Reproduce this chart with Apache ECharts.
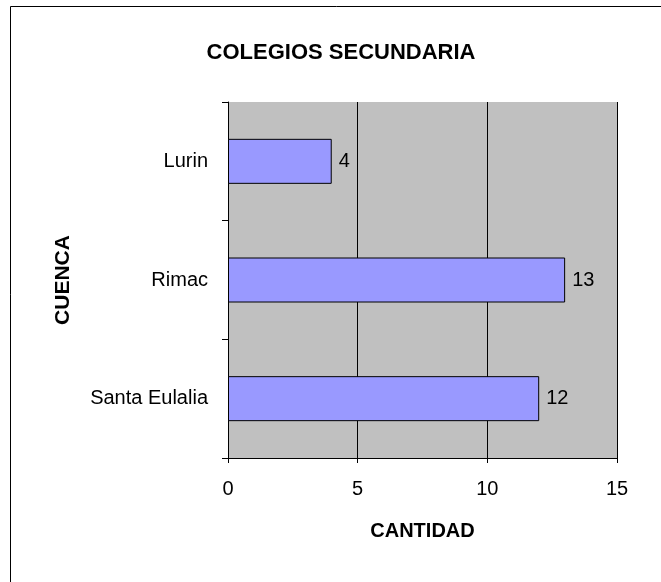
<!DOCTYPE html>
<html>
<head>
<meta charset="utf-8">
<script src="https://cdn.jsdelivr.net/npm/echarts@6/dist/echarts.min.js"></script>
<style>
  html, body { margin: 0; padding: 0; background: #fff; }
  #chart { width: 661px; height: 582px; }
</style>
</head>
<body>
<div id="chart"></div>
<script>
// datos
var cuencas = ['Lurin', 'Rimac', 'Santa Eulalia'];
var cantidades = [4, 13, 12];
var ticksX = [0, 5, 10, 15];

var chart = echarts.init(document.getElementById('chart'));
var fuente = 'Liberation Sans, Arial, sans-serif';

var option = {
    animation: false,
    backgroundColor: '#fff',
    title: {
        text: 'COLEGIOS SECUNDARIA',
        left: 336,
        top: 37,
        textAlign: 'center',
        textStyle: { fontFamily: fuente, fontSize: 22, fontWeight: 'bold', color: '#000' }
    },
    // marco exterior
    graphic: [{
        type: 'rect',
        shape: { x: 10.5, y: 6.5, width: 700, height: 700 },
        style: { fill: 'none', stroke: '#000', lineWidth: 1 },
        silent: true
    }],
    grid: {
        left: 228, top: 102, right: 44, bottom: 124,
        show: true, backgroundColor: '#C0C0C0', borderWidth: 0
    },
    xAxis: {
        type: 'value',
        min: ticksX[0], max: ticksX[ticksX.length - 1], interval: 5,
        name: 'CANTIDAD',
        nameLocation: 'middle',
        nameGap: 63,
        nameTextStyle: { fontFamily: fuente, fontSize: 20, fontWeight: 'bold', color: '#000' },
        axisLine: { show: true, lineStyle: { color: '#000', width: 1 } },
        axisTick: { show: true, length: 5, lineStyle: { color: '#000' } },
        axisLabel: { margin: 21, fontFamily: fuente, fontSize: 20, color: '#000' },
        splitLine: { show: true, lineStyle: { color: '#000', width: 1 } }
    },
    yAxis: {
        type: 'category',
        data: cuencas,
        inverse: true,
        name: 'CUENCA',
        nameLocation: 'middle',
        nameRotate: 90,
        nameGap: 154,
        nameTextStyle: { fontFamily: fuente, fontSize: 21, fontWeight: 'bold', color: '#000' },
        axisLine: { show: true, lineStyle: { color: '#000', width: 1 } },
        axisTick: { show: true, length: 6, lineStyle: { color: '#000' } },
        axisLabel: { margin: 20, fontFamily: fuente, fontSize: 20, color: '#000' },
        splitLine: { show: false }
    },
    series: [{
        type: 'bar',
        data: cantidades,
        barWidth: 45,
        itemStyle: { color: '#9999FF', borderColor: '#000', borderWidth: 1 },
        label: {
            show: true, position: 'right', distance: 7,
            fontFamily: fuente, fontSize: 20, color: '#000'
        }
    }]
};

chart.setOption(option);
</script>
</body>
</html>
